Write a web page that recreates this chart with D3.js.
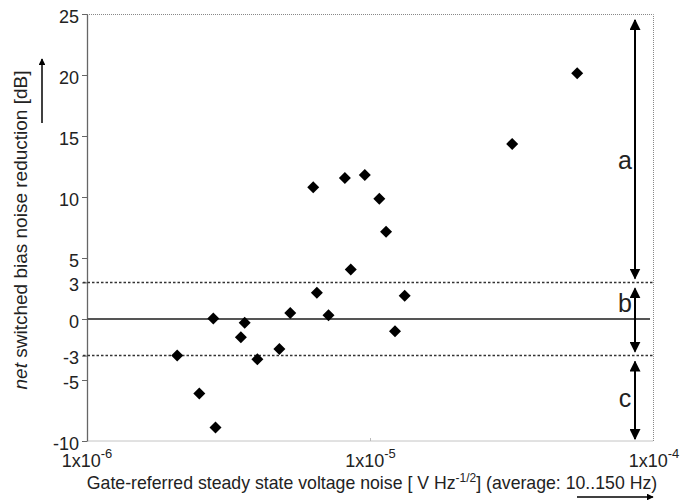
<!DOCTYPE html>
<html>
<head>
<meta charset="utf-8">
<script src="https://cdn.jsdelivr.net/npm/d3@7"></script>
<style>
  body { margin: 0; background: #fff; }
  #chart { width: 682px; height: 500px; }
  text { font-family: "Liberation Sans", Arial, sans-serif; fill: #222; }
</style>
</head>
<body>
<div id="chart"></div>
<script>
// measured points: noise [V/sqrt(Hz)] and net noise reduction [dB]
var noise = [2.08e-6, 2.49e-6, 2.84e-6, 2.79e-6, 3.49e-6, 3.6e-6, 3.99e-6, 4.77e-6, 5.21e-6, 6.47e-6,
             7.11e-6, 6.28e-6, 8.12e-6, 9.55e-6, 1.074e-5, 1.135e-5, 8.52e-6, 1.32e-5, 1.22e-5, 3.16e-5, 5.36e-5];
var reduction = [-3.0, -6.1, -8.9, 0.05, -1.5, -0.3, -3.3, -2.45, 0.5, 2.15,
                 0.3, 10.8, 11.55, 11.8, 9.85, 7.15, 4.05, 1.9, -1.0, 14.35, 20.15];

var yTicks = [-10, -5, -3, 0, 3, 5, 10, 15, 20, 25];
var xTicks = [1e-6, 1e-5, 1e-4];
var xTickExp = ["-6", "-5", "-4"];
var limits = [3, -3];
var regionNames = ["a", "b", "c"];
var regionFrom = [25, 3, -3];
var regionTo = [3, -3, -10];

var Graph = function(container, options) {
    this.chart = document.getElementById(container);
    this.options = options;
    this.cx = 682;
    this.cy = 500;
}

var scatterPlot = function(container, options) {
    Graph.call(this, container, options);
    var self = this;
    self.setProperties();

    this.svg = d3.select(this.chart).append("svg")
        .attr("width", this.cx)
        .attr("height", this.cy);

    var defs = this.svg.append("defs");
    [["head", 4.5], ["bighead", 5.5]].forEach(function(m) {
        defs.append("marker")
            .attr("id", m[0])
            .attr("viewBox", "0 0 10 10")
            .attr("refX", 9).attr("refY", 5)
            .attr("markerWidth", m[1]).attr("markerHeight", m[1])
            .attr("markerUnits", "strokeWidth")
            .attr("orient", "auto-start-reverse")
            .append("path").attr("d", "M0,0 L10,5 L0,10 Z").attr("fill", "#000");
    });

    this.vis = this.svg.append("g")
        .attr("transform", "translate(" + this.padding.left + "," + this.padding.top + ")");

    self.draw();
}

scatterPlot.prototype.setProperties = function() {
    this.padding = { top: 14, bottom: 59, left: 87, right: 28 };
    this.size = {
        width: this.cx - this.padding.left - this.padding.right,
        height: this.cy - this.padding.top - this.padding.bottom
    };
    this.x = d3.scaleLog().domain([1e-6, 1e-4]).range([0, this.size.width]);
    this.y = d3.scaleLinear().domain([-10, 25]).range([this.size.height, 0]);
}

scatterPlot.prototype.draw = function() {
    var self = this;
    var w = this.size.width, h = this.size.height;
    var vis = this.vis;

    // dotted frame on top, right, bottom
    vis.append("path")
        .attr("d", "M0,0.5 H" + (w - 0.5) + " V" + h + " H0")
        .attr("fill", "none")
        .attr("stroke", "#888")
        .attr("stroke-width", 1)
        .attr("stroke-dasharray", "1,1");

    // y axis
    var yAxis = vis.append("g")
        .call(d3.axisLeft(this.y).tickValues(yTicks).tickSize(5).tickSizeOuter(0).tickPadding(3)
            .tickFormat(function(d) { return String(d); }));
    yAxis.select(".domain").attr("stroke", "#666").attr("stroke-width", 1.3);
    yAxis.selectAll(".tick line").attr("stroke", "#666");
    yAxis.selectAll(".tick text")
        .attr("font-size", 18)
        .attr("font-family", "Liberation Sans, Arial, sans-serif")
        .attr("fill", "#222")
        .attr("dy", "0.45em");

    // x tick labels 1x10^n
    var xl = vis.append("g").selectAll("text").data(xTicks).enter().append("text")
        .attr("x", function(d) { return self.x(d); })
        .attr("y", h + 26)
        .attr("text-anchor", "middle")
        .attr("font-size", 18);
    xl.append("tspan").text("1x10");
    xl.append("tspan")
        .attr("dy", -9)
        .attr("font-size", 13)
        .text(function(d, i) { return xTickExp[i]; });

    vis.append("g").selectAll("line").data(xTicks.slice(1, 2)).enter().append("line")
        .attr("x1", function(d) { return self.x(d); })
        .attr("x2", function(d) { return self.x(d); })
        .attr("y1", h - 3).attr("y2", h)
        .attr("stroke", "#bbb");

    // zero line and +/-3 dB limits
    vis.append("line")
        .attr("x1", 0).attr("x2", w - 4)
        .attr("y1", this.y(0)).attr("y2", this.y(0))
        .attr("stroke", "#555").attr("stroke-width", 2);

    vis.append("g").selectAll("line").data(limits).enter().append("line")
        .attr("x1", -4).attr("x2", w)
        .attr("y1", function(d) { return self.y(d); })
        .attr("y2", function(d) { return self.y(d); })
        .attr("stroke", "#333").attr("stroke-width", 1.5)
        .attr("stroke-dasharray", "2.5,2");

    // points
    var diamond = d3.symbol().type(d3.symbolSquare).size(72);
    vis.append("g").selectAll("path").data(noise).enter().append("path")
        .attr("d", diamond)
        .attr("transform", function(d, i) {
            return "translate(" + self.x(d) + "," + self.y(reduction[i]) + ") rotate(45)";
        })
        .attr("fill", "#000");

    // region arrows a, b, c
    var ax = w - 19;
    var reg = vis.append("g").selectAll("g").data(regionNames).enter().append("g");
    reg.append("line")
        .attr("x1", ax).attr("x2", ax)
        .attr("y1", function(d, i) { return self.y(regionFrom[i]) + 6; })
        .attr("y2", function(d, i) { return self.y(regionTo[i]) - (i == 2 ? 2 : 4); })
        .attr("stroke", "#000").attr("stroke-width", 2)
        .attr("marker-start", "url(#bighead)")
        .attr("marker-end", "url(#bighead)");
    reg.append("text")
        .attr("x", ax - 10)
        .attr("y", function(d, i) {
            return self.y((regionFrom[i] + regionTo[i]) / 2 + (i == 0 ? -1 : (i == 1 ? 1.3 : 0))) ;
        })
        .attr("dy", "0.35em")
        .attr("text-anchor", "middle")
        .attr("font-size", 25)
        .text(function(d) { return d; });

    // axis titles
    var xt = this.svg.append("text")
        .attr("x", 372)
        .attr("y", 489)
        .attr("text-anchor", "middle")
        .attr("font-size", 17.7);
    xt.append("tspan").text("Gate-referred steady state voltage noise [ V Hz");
    xt.append("tspan").attr("dy", -7).attr("font-size", 12).text("-1/2");
    xt.append("tspan").attr("dy", 7).text("] (average: 10..150 Hz)");

    var yt = this.svg.append("text")
        .attr("transform", "translate(27,230) rotate(-90)")
        .attr("text-anchor", "middle")
        .attr("font-size", 19);
    yt.append("tspan").attr("font-style", "italic").text("net");
    yt.append("tspan").text(" switched bias noise reduction [dB]");

    this.svg.append("line")
        .attr("x1", 42).attr("x2", 42).attr("y1", 123).attr("y2", 59)
        .attr("stroke", "#000").attr("stroke-width", 1.5)
        .attr("marker-end", "url(#head)");
    this.svg.append("line")
        .attr("x1", 577).attr("x2", 653).attr("y1", 497).attr("y2", 497)
        .attr("stroke", "#000").attr("stroke-width", 1.5)
        .attr("marker-end", "url(#head)");
}

var plot = new scatterPlot("chart", {});
</script>
</body>
</html>
